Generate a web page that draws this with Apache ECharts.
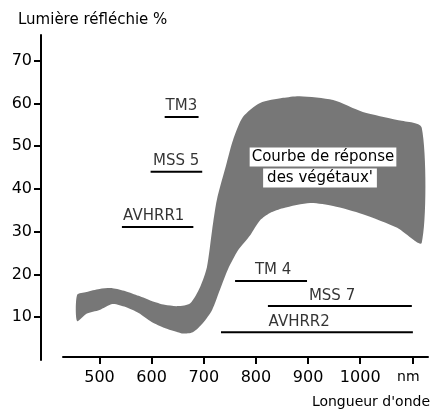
<!DOCTYPE html>
<html>
<head>
<meta charset="utf-8">
<script src="https://cdn.jsdelivr.net/npm/echarts@6/dist/echarts.min.js"></script>
<style>
  html, body { margin: 0; padding: 0; background: #fff; }
  #chart { width: 433px; height: 410px; }
</style>
</head>
<body>
<div id="chart"></div>
<script>
// courbe de réponse des végétaux : bord haut et bord bas (nm, %)
var upperX = [457, 475, 500, 525, 550, 575, 600, 625, 650, 674, 693, 706, 716, 725, 744, 756, 775, 808, 852, 884, 948, 1005, 1071, 1118];
var upperY = [15.2, 15.9, 16.6, 16.8, 16.1, 15.0, 13.8, 12.9, 12.6, 13.3, 17.1, 21.7, 30.4, 37.4, 46.1, 51.4, 56.8, 60.1, 61.3, 61.7, 60.8, 58.0, 56.1, 54.3];
var lowerX = [457, 475, 500, 525, 550, 575, 600, 625, 650, 660, 679, 698, 716, 731, 746, 766, 789, 808, 827, 852, 904, 948, 1005, 1071, 1118];
var lowerY = [9.1, 10.8, 11.7, 13.1, 12.4, 11.0, 8.9, 7.5, 6.5, 6.2, 6.5, 8.6, 11.7, 16.4, 21.1, 25.7, 29.2, 32.7, 34.4, 35.5, 36.7, 36.0, 34.1, 30.9, 27.4];

// bandes des capteurs
var bandNames = ['TM3', 'MSS 5', 'AVHRR1', 'TM 4', 'MSS 7', 'AVHRR2'];
var bandStart = [625, 598, 543, 760, 823, 733];
var bandEnd = [690, 697, 680, 898, 1099, 1101];
var bandLevel = [56.8, 44.0, 31.1, 18.5, 12.6, 6.5];
var bandLabelAt = [657, 647, 604, 833, 946, 883];

var xTicks = [500, 600, 700, 800, 900, 1000, 1100];
var yTicks = [10, 20, 30, 40, 50, 60, 70];

var chart = echarts.init(document.getElementById('chart'));

var series = [];

series.push({
	type: 'custom',
	silent: true,
	z: 1,
	data: [[upperX[0], upperY[0]]],
	renderItem: function (params, api) {
		var pts = [];
		for (var i = 0; i < upperX.length; i++) {
			pts.push(api.coord([upperX[i], upperY[i]]));
		}
		for (var j = lowerX.length - 1; j >= 0; j--) {
			pts.push(api.coord([lowerX[j], lowerY[j]]));
		}
		return {
			type: 'polygon',
			shape: { points: pts, smooth: 0.25 },
			style: { fill: '#777777' }
		};
	}
});

bandNames.forEach(function (name, i) {
	series.push({
		type: 'line',
		silent: true,
		z: 3,
		symbol: 'none',
		lineStyle: { color: '#000', width: 2 },
		data: [[bandStart[i], bandLevel[i]], [bandEnd[i], bandLevel[i]]]
	});
});

series.push({
	type: 'scatter',
	silent: true,
	z: 4,
	symbolSize: 0,
	data: bandNames.map(function (n, i) { return [bandLabelAt[i], bandLevel[i]]; }),
	label: {
		show: true,
		position: 'top',
		distance: 3,
		color: '#000',
		fontFamily: 'DejaVu Sans',
		fontSize: 15,
		formatter: function (p) { return bandNames[p.dataIndex]; }
	}
});

var option = {
	animation: false,
	backgroundColor: '#fff',
	title: {
		text: 'Lumière réfléchie %',
		left: 18,
		top: 13,
		padding: 0,
		textStyle: { fontFamily: 'DejaVu Sans', fontSize: 15, fontWeight: 'normal', color: '#000' }
	},
	grid: { left: 63, right: 5, top: 35, bottom: 50 },
	xAxis: {
		type: 'value',
		min: 430,
		max: 1130,
		offset: -3,
		splitLine: { show: false },
		axisLine: { lineStyle: { color: '#000', width: 2 } },
		axisTick: { customValues: xTicks, length: 7, lineStyle: { color: '#000', width: 2 } },
		axisLabel: {
			customValues: xTicks,
			margin: 13,
			color: '#000',
			fontFamily: 'DejaVu Sans',
			fontSize: 16,
			formatter: function (v) { return v === 1100 ? '{u|nm}' : String(v); },
			rich: { u: { fontFamily: 'DejaVu Sans', fontSize: 14, color: '#000', padding: [0, 8, 0, 0] } }
		}
	},
	yAxis: {
		type: 'value',
		min: 0,
		max: 76,
		offset: 22,
		splitLine: { show: false },
		axisLine: { show: true, lineStyle: { color: '#000', width: 2 } },
		axisTick: { show: true, customValues: yTicks, length: 7, lineStyle: { color: '#000', width: 2 } },
		axisLabel: {
			customValues: yTicks,
			margin: 9,
			color: '#000',
			fontFamily: 'DejaVu Sans',
			fontSize: 16
		}
	},
	graphic: [
		{
			type: 'text',
			x: 323, y: 157, z: 10,
			style: {
				text: 'Courbe de réponse',
				font: '15px "DejaVu Sans"',
				fill: '#000',
				align: 'center',
				verticalAlign: 'middle',
				backgroundColor: '#fff',
				padding: [2, 2]
			}
		},
		{
			type: 'text',
			x: 320, y: 178, z: 10,
			style: {
				text: "des végétaux'",
				font: '15px "DejaVu Sans"',
				fill: '#000',
				align: 'center',
				verticalAlign: 'middle',
				backgroundColor: '#fff',
				padding: [2, 4]
			}
		},
		{
			type: 'text',
			x: 430, y: 402,
			style: {
				text: "Longueur d'onde",
				font: '14px "DejaVu Sans"',
				fill: '#000',
				align: 'right',
				verticalAlign: 'middle'
			}
		}
	],
	series: series
};

chart.setOption(option);
</script>
</body>
</html>
